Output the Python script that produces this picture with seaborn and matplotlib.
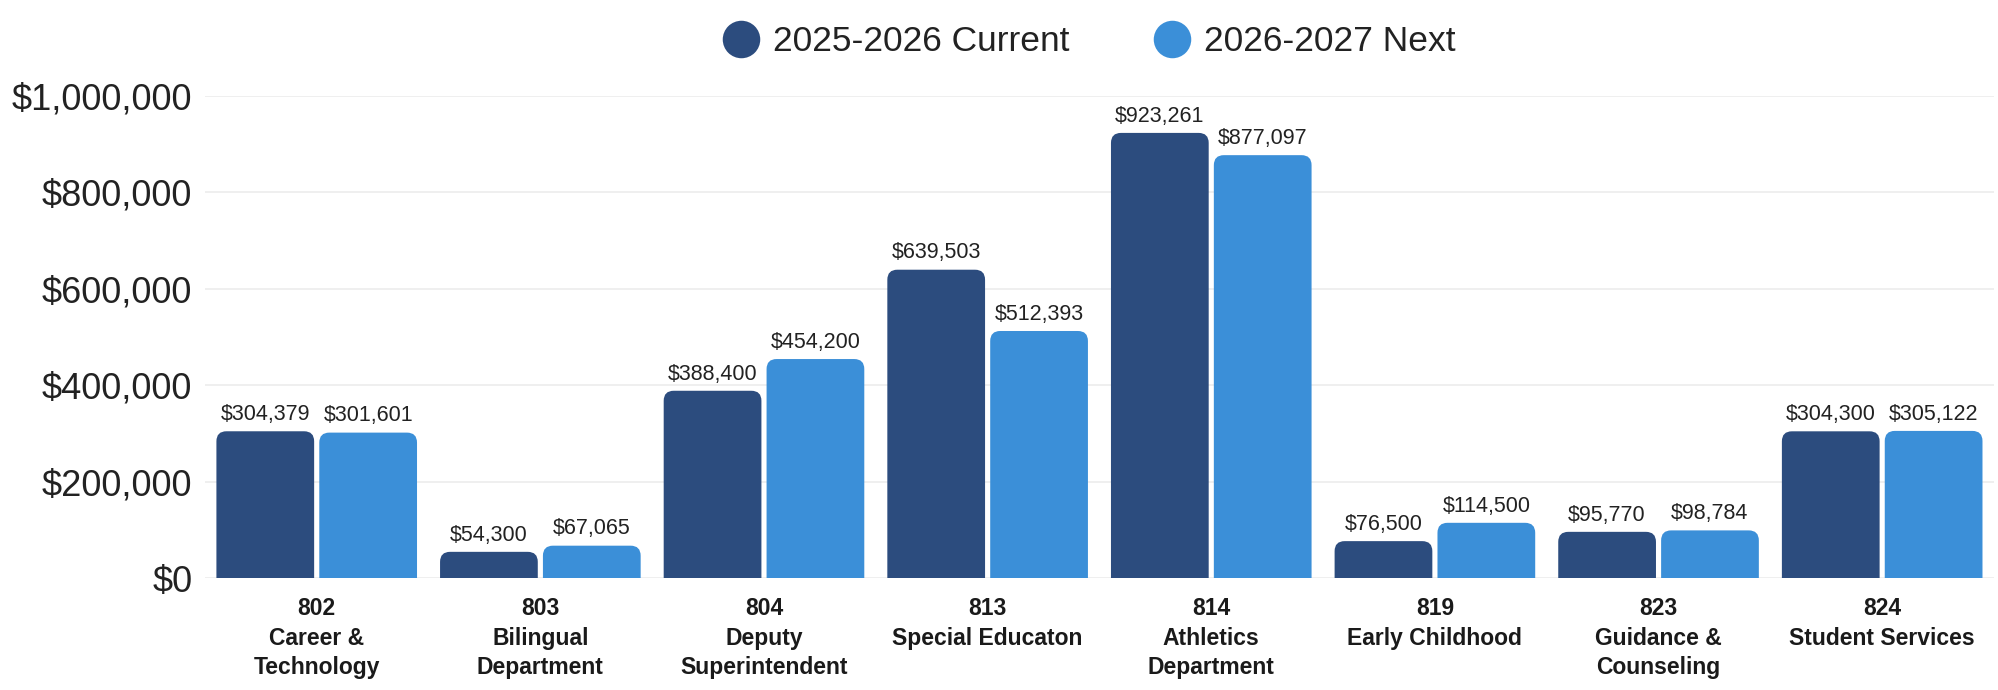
import matplotlib
matplotlib.use("Agg")
import matplotlib.pyplot as plt
from matplotlib.lines import Line2D
from matplotlib.patches import FancyBboxPatch
from matplotlib.ticker import FuncFormatter
import pandas as pd
import seaborn as sns

# ── Data ──────────────────────────────────────────────────────────────────────
codes = ["802", "803", "804", "813", "814", "819", "823", "824"]
names = ["Career &\nTechnology", "Bilingual\nDepartment", "Deputy\nSuperintendent",
         "Special Educaton", "Athletics\nDepartment", "Early Childhood",
         "Guidance &\nCounseling", "Student Services"]
current = [304379, 54300, 388400, 639503, 923261, 76500, 95770, 304300]
nxt = [301601, 67065, 454200, 512393, 877097, 114500, 98784, 305122]
series = ["2025-2026 Current", "2026-2027 Next"]
COLORS = ["#2c4c7e", "#3b8fd8"]

labels = [f"{c}\n{n}" for c, n in zip(codes, names)]
df = pd.DataFrame({
    "dept": labels * 2,
    "year": [series[0]] * len(labels) + [series[1]] * len(labels),
    "amount": current + nxt,
})

# ── Style ─────────────────────────────────────────────────────────────────────
sns.set_theme(style="white")
plt.rcParams["font.family"] = ["Liberation Sans", "DejaVu Sans"]

fig = plt.figure(figsize=(19.99, 6.9), dpi=100)
ax = fig.add_axes([0.1025, 0.1623, 0.895, 0.6987])

sns.barplot(data=df, x="dept", y="amount", hue="year", order=labels,
            hue_order=series, palette=COLORS, width=0.92, gap=0.05,
            saturation=1, legend=False, ax=ax)

ax.set_xlim(-0.5, 7.5)
ax.set_ylim(0, 1_000_000)
ax.set_yticks(range(0, 1_000_001, 200_000))
ax.yaxis.set_major_formatter(FuncFormatter(lambda v, _: f"${v:,.0f}"))
ax.tick_params(axis="y", labelsize=26, pad=9, length=0, labelcolor="#222222")
ax.tick_params(axis="x", length=0, pad=14)
ax.set_xticks(range(len(labels)))
ax.set_xticklabels(labels, fontsize=16.5, fontweight="bold", linespacing=1.35,
                   color="#1a1a1a")
ax.set_xlabel("")
ax.set_ylabel("")
ax.yaxis.grid(True, color="#ececec", linewidth=1.2)
ax.set_axisbelow(True)
for s in ax.spines.values():
    s.set_visible(False)

# rounded top corners: swap each bar for a rounded box built from its geometry
fig.canvas.draw()
x_per_px = 8 / (ax.bbox.width)
y_per_px = 1_000_000 / (ax.bbox.height)
r = 10 * x_per_px
bars = list(ax.patches)
for bar in bars:
    x0, w, h = bar.get_x(), bar.get_width(), bar.get_height()
    fc = bar.get_facecolor()
    bar.set_visible(False)
    box = FancyBboxPatch((x0, -r * y_per_px / x_per_px), w, h + r * y_per_px / x_per_px,
                         boxstyle=f"round,pad=0,rounding_size={r}",
                         mutation_aspect=y_per_px / x_per_px,
                         facecolor=fc, edgecolor="none", zorder=2)
    ax.add_patch(box)
    ax.annotate(f"${h:,.0f}", (x0 + w / 2, h), xytext=(0, 4.5),
                textcoords="offset points", ha="center", va="bottom",
                fontsize=15.5, color="#222222")

# ── Legend ────────────────────────────────────────────────────────────────────
handles = [Line2D([], [], marker="o", linestyle="none", markersize=27,
                  markerfacecolor=c, markeredgecolor="none", label=s)
           for c, s in zip(COLORS, series)]
fig.legend(handles=handles, loc="center", bbox_to_anchor=(0.545, 0.94), ncol=2,
           frameon=False, fontsize=25.5, handletextpad=0.4, columnspacing=2.4,
           handlelength=1.0, labelcolor="#222222")

fig.savefig("out.png", dpi=100)
